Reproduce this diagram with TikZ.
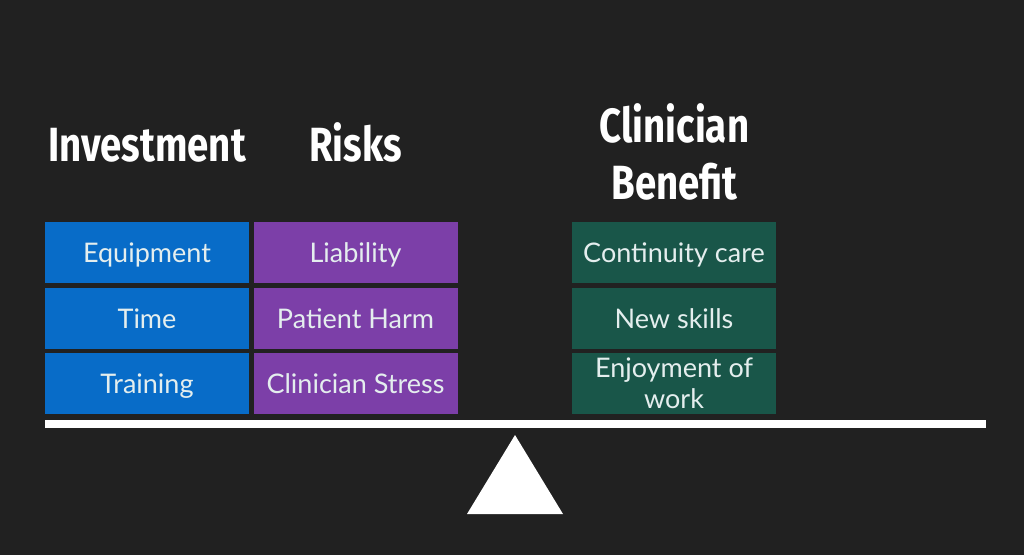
\documentclass[tikz,border=0pt]{standalone}
\usepackage{fontspec}
\setmainfont{Lato}
\newfontfamily\headfont{Fira Sans}[FakeStretch=0.8]
\definecolor{bg}{RGB}{33,33,33}
\definecolor{invblue}{RGB}{8,108,200}
\definecolor{riskpurple}{RGB}{124,63,168}
\definecolor{benegreen}{RGB}{25,86,73}
\definecolor{boxtext}{RGB}{228,238,238}
\tikzset{
  itembox/.style={draw=none, minimum width=204pt, minimum height=61pt, inner sep=0pt,
    text height=20pt, text depth=0pt, text=boxtext, font=\fontsize{27}{31}\selectfont},
  heading/.style={anchor=base, text=white, inner sep=0pt, font=\headfont\bfseries\fontsize{48}{57}\selectfont},
}
\begin{document}
\begin{tikzpicture}[x=1pt,y=-1pt]
\fill[bg] (0,0) rectangle (1024,555);
\useasboundingbox (0,0) rectangle (1024,555);
% headings
\node[heading] (hinv) at (147,161) {Investment};
\node[heading] (hrisk) at (355.5,161) {Risks};
\node[heading] (hcl1) at (674.5,142) {Clinician};
\node[heading] (hcl2) at (674.5,199) {Benefit};
% investment column
\node[itembox, fill=invblue] (equip) at (147,252.5) {Equipment};
\node[itembox, fill=invblue] (time) at (147,318) {Time};
\node[itembox, fill=invblue] (train) at (147,383.5) {Training};
% risks column
\node[itembox, fill=riskpurple] (liab) at (355.5,252.5) {Liability};
\node[itembox, fill=riskpurple] (harm) at (355.5,318) {Patient Harm};
\node[itembox, fill=riskpurple] (stress) at (355.5,383.5) {Clinician Stress};
% benefit column
\node[itembox, fill=benegreen] (cont) at (674,252.5) {Continuity care};
\node[itembox, fill=benegreen] (skills) at (674,318) {New skills};
\node[itembox, fill=benegreen, text depth=33pt] (enjoy) at (674,383.5)
  {\begin{tabular}[t]{@{}c@{}}Enjoyment of\\work\end{tabular}};
% beam and fulcrum
\node[fill=white, draw=none, minimum width=941pt, minimum height=8pt, inner sep=0pt] (beam) at (515.5,424) {};
\fill[white] (515,435) coordinate (apex) -- (563,514) coordinate (br) -- (467,514) coordinate (bl) -- cycle;
\end{tikzpicture}
\end{document}
